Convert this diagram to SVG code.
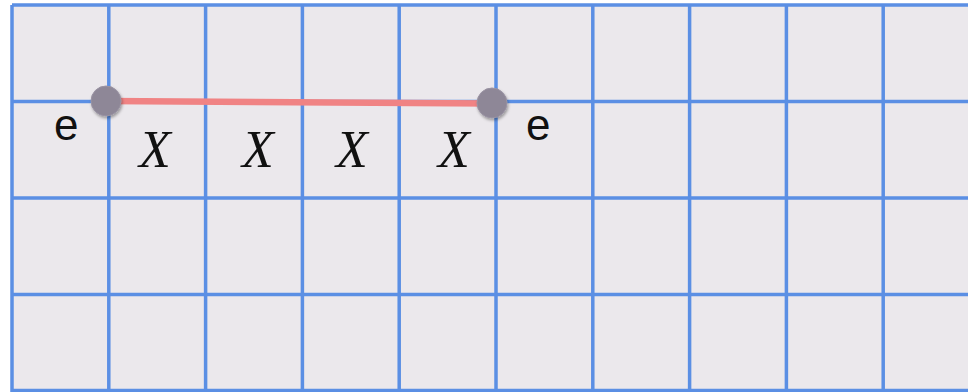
<svg xmlns="http://www.w3.org/2000/svg" width="968" height="392" viewBox="0 0 968 392">
<defs>
<style>
.g{stroke:#5b8fe4;stroke-width:3.5;fill:none}
.e{font-family:"Liberation Sans",Arial,sans-serif;font-size:44px;fill:#111}
.x{font-family:"Liberation Serif","Times New Roman",serif;font-style:italic;font-size:52px;fill:#111;text-anchor:middle}
.dot{fill:#8e8797;stroke:#9a93a3;stroke-width:1}
</style>
<filter id="sh" x="-50%" y="-50%" width="200%" height="200%">
<feDropShadow dx="1" dy="2" stdDeviation="1.5" flood-color="#000" flood-opacity="0.35"/>
</filter>
</defs>
<rect width="968" height="392" fill="#ffffff"/>
<rect x="12" y="5" width="960" height="390" fill="#ebe8ec"/>
<g id="grid" class="g">
<path d="M12 5V392M108.8 5V392M205.6 5V392M302.4 5V392M399.2 5V392M496 5V392M592.8 5V392M689.6 5V392M786.4 5V392M883.2 5V392"/>
<path d="M12 5H968M12 101.5H968M12 198H968M12 294.5H968M12 390.5H968"/>
</g>
<g id="connectors">
<line x1="106" y1="101" x2="492" y2="103.5" stroke="#f08384" stroke-width="6.5"/>
</g>
<g id="node-left">
<circle class="dot" cx="106" cy="101" r="15" filter="url(#sh)"/>
<text class="e" x="54" y="140">e</text>
</g>
<g id="node-right">
<circle class="dot" cx="492" cy="103" r="15" filter="url(#sh)"/>
<text class="e" x="526" y="140">e</text>
</g>
<g id="labels">
<text class="x" x="155" y="167">X</text>
<text class="x" x="258" y="167">X</text>
<text class="x" x="352" y="167">X</text>
<text class="x" x="454" y="167">X</text>
</g>
</svg>
